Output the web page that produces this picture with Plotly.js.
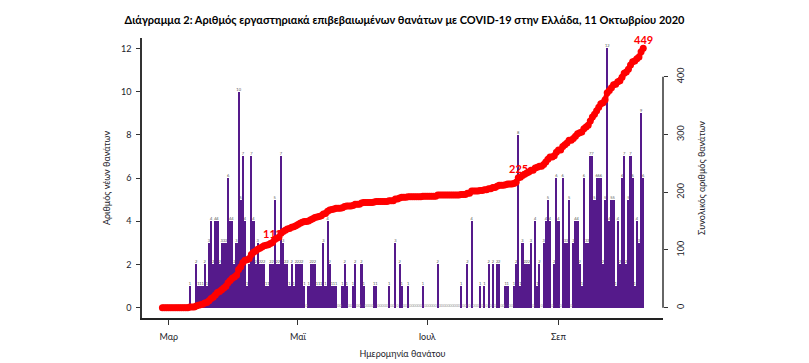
<!DOCTYPE html>
<html>
<head>
<meta charset="utf-8">
<script src="https://cdn.plot.ly/plotly-3.0.1.min.js"></script>
<style>
  html, body { margin: 0; padding: 0; background: #ffffff; }
  #chart { width: 809px; height: 363px; }
</style>
</head>
<body>
<div id="chart"></div>
<script>
// ---- Data ----
const startDate = '2020-02-27';   // first day shown
const deathsFeb = [0, 0, 0];
const deathsMar = [0,0,0,0,0,0,0,0,0,0, 1,0,0,2,1,1,1,2,1,3,4,2,4,4,2,3,3,3,6,4,4];
const deathsApr = [2,3,10,5,7,4,1,2,7,4,2,3,2,2,2,1,1,2,2,5,2,2,7,3,2,2,1,2,1,2];
const deathsMay = [2,2,2,1,0,1,2,2,2,1,1,1,3,1,4,2,1,1,1,0,0,1,2,1,0,0,1,2,0,0,2];
const deathsJun = [1,0,0,0,0,1,1,0,0,0,0,0,1,0,0,3,0,2,1,0,0,1,0,0,0,0,0,0,1,0];
const deathsJul = [0,0,0,0,0,2,0,0,0,0,0,0,0,0,0,0,1,0,0,2,0,4,0,0,0,1,0,1,0,2,0];
const deathsAug = [2,0,2,2,0,0,1,1,0,0,1,2,8,1,3,2,2,2,3,0,4,1,2,0,3,4,5,4,0,2,6];
const deathsSep = [4,0,6,3,3,5,0,3,4,4,2,1,6,3,3,7,7,5,6,6,6,2,5,12,4,5,5,1,4,2];
const deathsOct = [6,7,2,5,7,6,1,4,3,9,6];

const xTickDates  = ['2020-03-01', '2020-05-01', '2020-07-01', '2020-09-01'];
const xTickLabels = ['Μαρ', 'Μαϊ', 'Ιουλ', 'Σεπ'];
const yLeftTicks  = [0, 2, 4, 6, 8, 10, 12];
const yRightTicks = [0, 100, 200, 300, 400];

const titleText  = 'Διάγραμμα 2: Αριθμός εργαστηριακά επιβεβαιωμένων θανάτων με COVID-19 στην Ελλάδα, 11 Οκτωβρίου 2020';
const xTitleText = 'Ημερομηνία θανάτου';
const yTitleText = 'Αριθμός νέων θανάτων';
const y2TitleText = 'Συνολικός αριθμός θανάτων';

// ---- Derived ----
const daily = [].concat(deathsFeb, deathsMar, deathsApr, deathsMay, deathsJun,
                        deathsJul, deathsAug, deathsSep, deathsOct);
const p = startDate.split('-').map(Number);
const dates = daily.map((_, i) =>
  new Date(Date.UTC(p[0], p[1] - 1, p[2] + i)).toISOString().slice(0, 10));
const cumulative = [];
daily.reduce((acc, v, i) => (cumulative[i] = acc + v), 0);
const total = cumulative[cumulative.length - 1];
const firstAtLeast = t => cumulative.findIndex(c => c >= t);
const markIdx = [firstAtLeast(total / 4), firstAtLeast(total / 2), cumulative.length - 1];

const FONT = 'Lato, "Open Sans", sans-serif';
const INK = '#1c1c2a';

const traces = [
  {
    type: 'bar', x: dates, y: daily,
    marker: { color: '#551A8B', line: { width: 0 } },
    hoverinfo: 'x+y', showlegend: false
  },
  {
    type: 'scatter', mode: 'text', x: dates, y: daily,
    text: daily.map(String), textposition: 'top center',
    textfont: { family: FONT, size: 4, color: daily.map(v => v === 0 ? '#9a9a9a' : '#555555') },
    hoverinfo: 'skip', showlegend: false, cliponaxis: false
  },
  {
    type: 'scatter', mode: 'lines+markers', x: dates, y: cumulative, yaxis: 'y2',
    line: { color: '#FF0000', width: 5 },
    marker: { color: '#FF0000', size: 7 },
    showlegend: false, cliponaxis: false
  }
];

const annotations = markIdx.map(i => ({
  xref: 'x', yref: 'y2', x: dates[i], y: cumulative[i],
  text: '<b>' + cumulative[i] + '</b>', showarrow: false,
  yshift: 9, font: { family: FONT, size: 11, color: '#FF0000' }
}));

const layout = {
  width: 809, height: 363,
  margin: { l: 142, r: 146, t: 38, b: 45 },
  paper_bgcolor: '#ffffff', plot_bgcolor: '#ffffff',
  font: { family: FONT, color: INK },
  bargap: 0,
  title: {
    text: '<b>' + titleText + '</b>',
    x: 0.5, xanchor: 'center', y: 1 - 20 / 363, yanchor: 'middle',
    font: { family: FONT, size: 11, color: '#000000' }
  },
  xaxis: {
    type: 'date',
    range: ['2020-02-17 09:00', '2020-10-20 08:00'],
    tickvals: xTickDates, ticktext: xTickLabels,
    ticks: 'outside', ticklen: 5, tickcolor: '#333', tickwidth: 1,
    ticklabelstandoff: 4,
    tickfont: { family: FONT, size: 9, color: INK },
    showline: true, linecolor: '#222', linewidth: 1.5,
    showgrid: false, zeroline: false,
    title: { text: xTitleText, standoff: 10, font: { family: FONT, size: 9, color: INK } }
  },
  yaxis: {
    range: [-0.48, 12.48],
    tickvals: yLeftTicks,
    ticks: 'outside', ticklen: 4, tickcolor: '#333', tickwidth: 1,
    ticklabelstandoff: 3,
    tickfont: { family: FONT, size: 9, color: INK },
    showline: true, linecolor: '#333', linewidth: 1.5,
    showgrid: false, zeroline: false,
    title: { text: yTitleText, standoff: 9, font: { family: FONT, size: 9, color: INK } }
  },
  yaxis2: {
    overlaying: 'y', side: 'right',
    range: [-17.96, 466.96],
    tickvals: yRightTicks, tickangle: -90,
    ticks: 'outside', ticklen: 4, tickcolor: '#333', tickwidth: 1,
    ticklabelstandoff: 5,
    tickfont: { family: FONT, size: 9, color: INK },
    showline: false, showgrid: false, zeroline: false,
    title: { text: y2TitleText, standoff: 13, font: { family: FONT, size: 9, color: INK } }
  },
  shapes: [{
    type: 'line', xref: 'paper', x0: 1, x1: 1,
    yref: 'y2', y0: yRightTicks[0], y1: yRightTicks[yRightTicks.length - 1],
    line: { color: '#333', width: 1.5 }
  }],
  annotations: annotations
};

Plotly.newPlot('chart', traces, layout, { displayModeBar: false, responsive: false });
</script>
</body>
</html>
